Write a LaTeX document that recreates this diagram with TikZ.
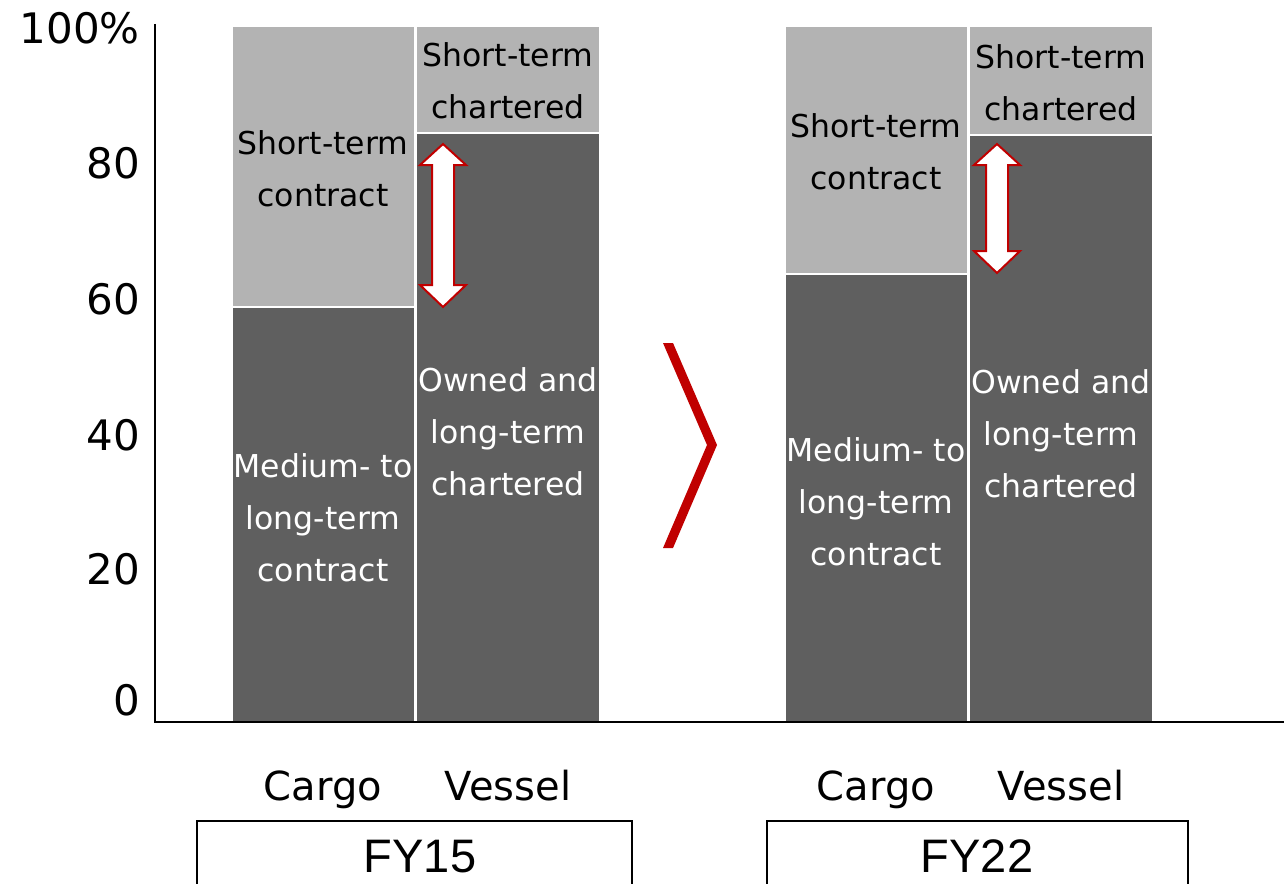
\documentclass[tikz,border=0pt]{standalone}
\usepackage{fontspec}
\setmainfont{DejaVu Sans}
\newfontfamily\fyfont{Liberation Sans}
\definecolor{segdark}{HTML}{5F5F5F}
\definecolor{seglight}{HTML}{B3B3B3}
\definecolor{accent}{HTML}{C00000}
\begin{document}
\begin{tikzpicture}[x=1pt,y=-1pt,
  darkseg/.style={fill=segdark, draw=white, line width=1.5pt},
  lightseg/.style={fill=seglight, draw=white, line width=1.5pt},
  segtext/.style={align=center, inner sep=0pt, font=\fontsize{31.5}{52}\selectfont},
  ontext/.style={segtext, text=white},
  offtext/.style={segtext, text=black},
  ticklabel/.style={anchor=base east, inner sep=0pt, font=\fontsize{42}{48}\selectfont},
  catlabel/.style={anchor=base, inner sep=0pt, font=\fontsize{40}{46}\selectfont},
  yearbox/.style={draw=black, line width=1.2pt, fill=white},
  yeartext/.style={anchor=base, inner sep=0pt, font=\fyfont\fontsize{47}{52}\selectfont},
  bigarrow/.style={fill=white, draw=accent, line width=2pt, line join=miter}]
\useasboundingbox (0,0) rectangle (1284,883);

% stacked bars, FY15
\draw[darkseg]  (232,722) rectangle (415,307);
\draw[lightseg] (232,307) rectangle (415,26);
\draw[darkseg]  (416,722) rectangle (600,133);
\draw[lightseg] (416,133) rectangle (600,26);
% stacked bars, FY22
\draw[darkseg]  (785,722) rectangle (968,274);
\draw[lightseg] (785,274) rectangle (968,26);
\draw[darkseg]  (969,722) rectangle (1153,135);
\draw[lightseg] (969,135) rectangle (1153,26);

% axes
\coordinate (ytop) at (155,24);
\coordinate (origin) at (155,722);
\coordinate (xend) at (1284,722);
\draw[line width=1.6pt] (ytop) -- (origin) -- (xend);

% tick labels
\node[ticklabel] (t100) at (140,44)  {100\%};
\node[ticklabel] (t80)  at (140,178) {80};
\node[ticklabel] (t60)  at (140,314) {60};
\node[ticklabel] (t40)  at (140,450) {40};
\node[ticklabel] (t20)  at (140,584) {20};
\node[ticklabel] (t0)   at (140,715) {0};

% segment labels, FY15
\node[offtext] (c15s) at (323,169) {Short-term\\contract};
\node[ontext]  (c15m) at (323,518) {Medium- to\\long-term\\contract};
\node[offtext] (v15s) at (508,81)  {Short-term\\chartered};
\node[ontext]  (v15o) at (508,432) {Owned and\\long-term\\chartered};
% segment labels, FY22
\node[offtext] (c22s) at (876,152) {Short-term\\contract};
\node[ontext]  (c22m) at (876,502) {Medium- to\\long-term\\contract};
\node[offtext] (v22s) at (1061,83) {Short-term\\chartered};
\node[ontext]  (v22o) at (1061,434) {Owned and\\long-term\\chartered};

% double arrows on the vessel bars
\draw[bigarrow] (443,144) -- (466,165) -- (454,165) -- (454,285) -- (466,285)
  -- (443,307) -- (420,285) -- (432,285) -- (432,165) -- (420,165) -- cycle;
\draw[bigarrow] (997,144) -- (1020,165) -- (1008,165) -- (1008,251) -- (1020,251)
  -- (997,273) -- (974,251) -- (986,251) -- (986,165) -- (974,165) -- cycle;

% chevron between the two years
\fill[accent] (663,343) -- (673,343) -- (717,445) -- (673,548) -- (663,548)
  -- (707,445) -- cycle;

% category labels
\node[catlabel] (cargo15)  at (323,800)  {Cargo};
\node[catlabel] (vessel15) at (508,800)  {Vessel};
\node[catlabel] (cargo22)  at (876,800)  {Cargo};
\node[catlabel] (vessel22) at (1061,800) {Vessel};

% year boxes
\draw[yearbox] (197,821) rectangle (632,900);
\draw[yearbox] (767,821) rectangle (1188,900);
\node[yeartext] (fy15) at (420,872) {FY15};
\node[yeartext] (fy22) at (977,872) {FY22};
\end{tikzpicture}
\end{document}
